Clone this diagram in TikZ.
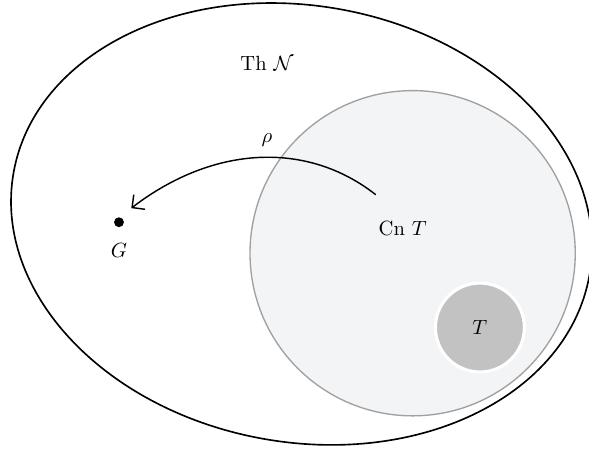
\documentclass[tikz,border=0pt]{standalone}
\usepackage{amsmath}
\usepackage{xcolor}
\usepackage{tikz}
\usetikzlibrary{shapes.geometric, arrows.meta, positioning, calc}
\definecolor{cnborder}{RGB}{160, 160, 160}
\definecolor{cnfill}{RGB}{243, 244, 246}
\definecolor{tfill}{RGB}{194, 194, 194}
\tikzset{
  thbox/.style={ellipse, draw=black, line width=0.8pt, minimum width=10cm,
              minimum height=7.46cm, inner sep=0pt, rotate=-10.2},
  cnbox/.style={circle, draw=cnborder, fill=cnfill, line width=0.65pt,
              minimum size=5.56cm, inner sep=0pt},
  tbox/.style={circle, draw=white, fill=tfill, line width=1.5pt,
              minimum size=1.52cm, inner sep=0pt},
  gdot/.style={circle, fill=black, minimum size=4.8pt, inner sep=0pt},
  maparrow/.style={-{Straight Barb[length=4.5pt, width=9pt]}, line width=0.7pt},
}
\begin{document}
\begin{tikzpicture}[every node/.style={font=\normalsize}]
  \useasboundingbox (-5.154,-3.863) rectangle (4.915,3.829);

  \node[thbox] (thn) at (0,0) {};
  \node[cnbox] (cn) at (1.9,-0.5) {};
  \node[tbox] (t) at (3.05,-1.77) {};

  \node (thlabel) at (-0.59,2.75) {Th $\mathcal{N}$};
  \node (cnlabel) at (1.73,-0.085) {Cn $T$};
  \node (tlabel) at (t) {$T$};

  \node[gdot] (g) at (-3.12,0.03) {};
  \node[below=4pt of g] (glabel) {$G$};

  \coordinate (rhostart) at (1.27,0.5);
  \coordinate (rhoend) at (-2.91,0.27);
  \draw[maparrow] (rhostart) .. controls (0.1,1.42) and (-1.5,1.35) .. (rhoend);
  \node (rho) at (-0.59,1.44) {$\rho$};
\end{tikzpicture}
\end{document}
